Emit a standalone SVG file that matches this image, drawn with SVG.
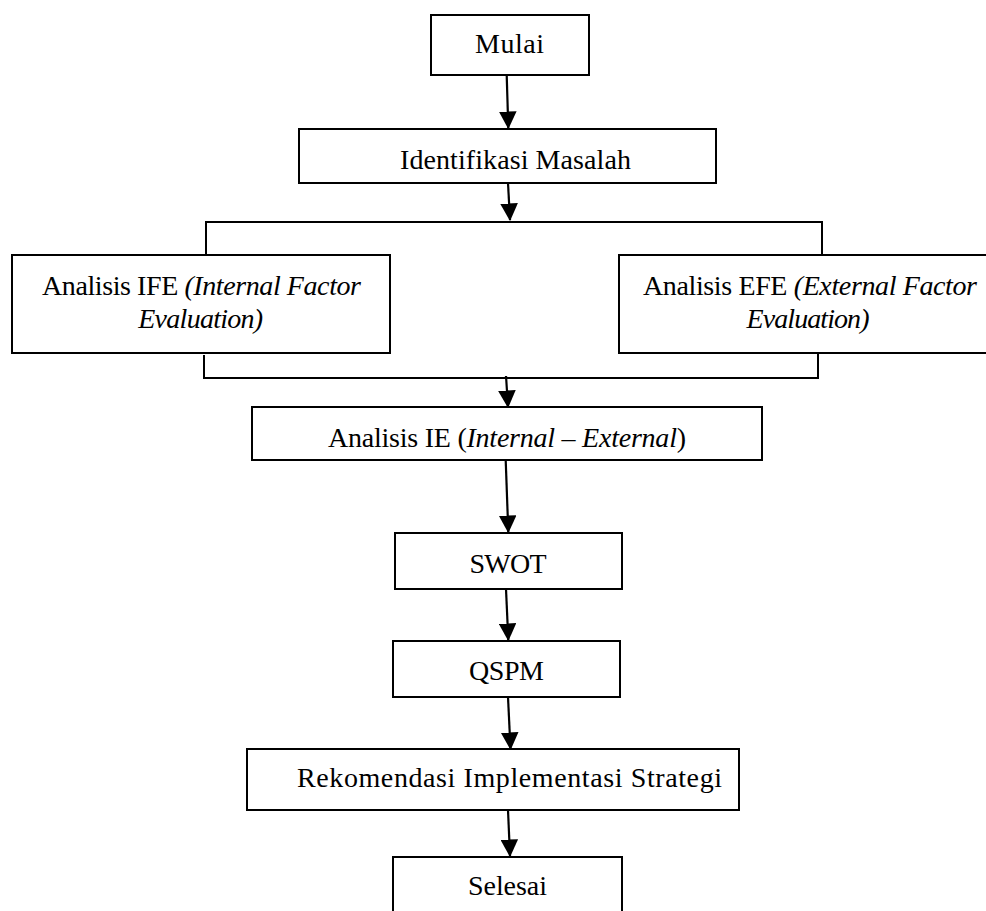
<svg xmlns="http://www.w3.org/2000/svg" width="986" height="911" viewBox="0 0 986 911">
<defs>
<style>
.box{fill:#fff;stroke:#000;stroke-width:2}
.t{font-family:"Liberation Serif","Times New Roman",serif;font-size:28px;fill:#000;text-anchor:middle}
.i{font-style:italic}
.ln{fill:none;stroke:#000;stroke-width:2}
.ar{fill:none;stroke:#000;stroke-width:2.2;marker-end:url(#ah)}
</style>
<marker id="ah" markerWidth="8" markerHeight="8" refX="7.5" refY="4" orient="auto" markerUnits="strokeWidth" viewBox="0 0 8 8">
<path d="M0,0 L8,4 L0,8 Z" fill="#000"/>
</marker>
</defs>
<rect width="986" height="911" fill="#fff"/>
<g id="connectors">
<line class="ar" x1="506.7" y1="75" x2="508.3" y2="128"/>
<line class="ar" x1="508" y1="183" x2="510" y2="220"/>
<polyline class="ln" points="206,255 206,222 822,222 822,255"/>
<polyline class="ln" points="204,355 204,378 818,378 818,353"/>
<line class="ar" x1="506" y1="376" x2="508" y2="407"/>
<line class="ar" x1="505.7" y1="460" x2="508.3" y2="532"/>
<line class="ar" x1="506" y1="589" x2="508.3" y2="640"/>
<line class="ar" x1="508" y1="697" x2="510.5" y2="749"/>
<line class="ar" x1="508" y1="810" x2="510" y2="856"/>
</g>
<g id="mulai">
<rect class="box" x="431" y="15" width="158" height="60"/>
<text class="t" x="509.5" y="53" textLength="69">Mulai</text>
</g>
<g id="identifikasi">
<rect class="box" x="299" y="129" width="417" height="54"/>
<text class="t" x="515.5" y="169" textLength="231">Identifikasi Masalah</text>
</g>
<g id="ife">
<rect class="box" x="12" y="255" width="378" height="98"/>
<text class="t" x="201.5" y="295" textLength="319">Analisis IFE <tspan class="i">(Internal Factor</tspan></text>
<text class="t i" x="200.7" y="328" textLength="125">Evaluation)</text>
</g>
<g id="efe">
<rect class="box" x="619" y="255" width="380" height="98"/>
<text class="t" x="810" y="295" textLength="334">Analisis EFE <tspan class="i">(External Factor</tspan></text>
<text class="t i" x="808" y="328" textLength="123">Evaluation)</text>
</g>
<g id="ie">
<rect class="box" x="252" y="407" width="510" height="53"/>
<text class="t" x="507" y="447" textLength="358">Analisis IE (<tspan class="i">Internal – External</tspan>)</text>
</g>
<g id="swot">
<rect class="box" x="395" y="533" width="227" height="56"/>
<text class="t" x="508" y="573" textLength="77">SWOT</text>
</g>
<g id="qspm">
<rect class="box" x="393" y="641" width="227" height="56"/>
<text class="t" x="506.5" y="680" textLength="75">QSPM</text>
</g>
<g id="rekomendasi">
<rect class="box" x="247" y="749" width="492" height="61"/>
<text class="t" x="509.5" y="787" textLength="425">Rekomendasi Implementasi Strategi</text>
</g>
<g id="selesai">
<rect class="box" x="393" y="857" width="229" height="70"/>
<text class="t" x="507.5" y="895" textLength="79">Selesai</text>
</g>
</svg>
